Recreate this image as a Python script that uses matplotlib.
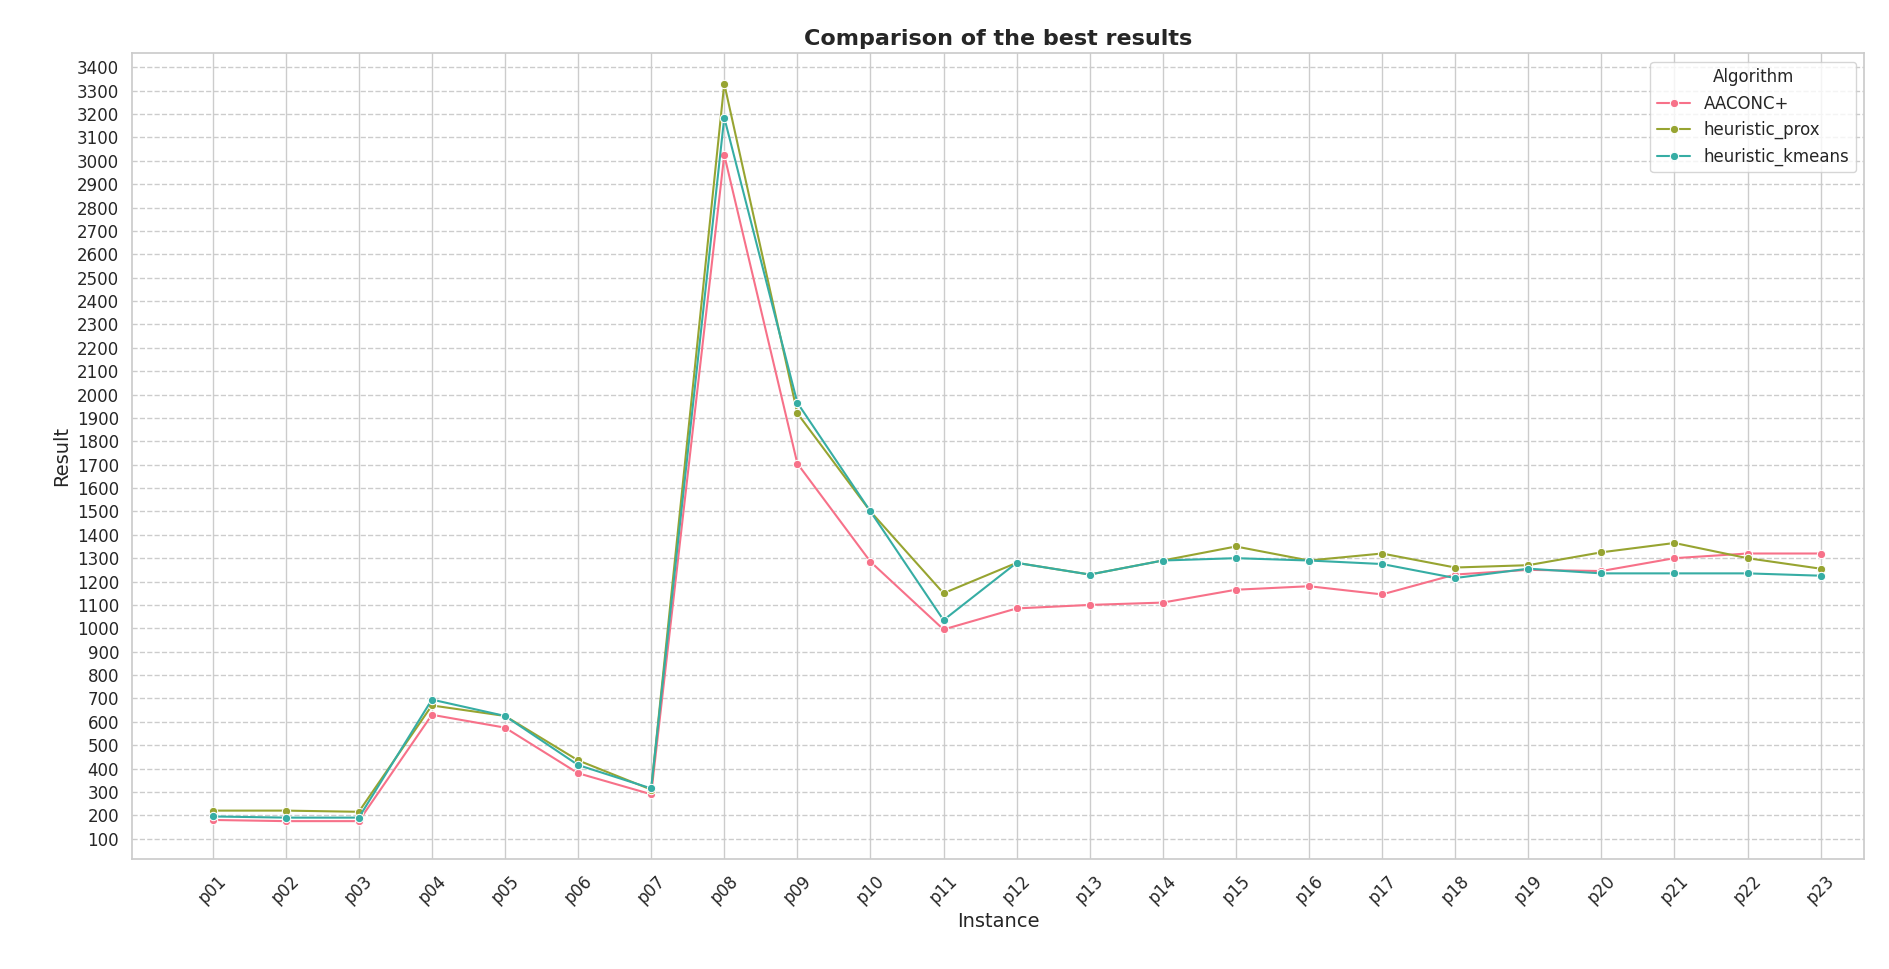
import pandas as pd
import seaborn as sns
import matplotlib.pyplot as plt
from matplotlib.ticker import FixedLocator

instances = ["p%02d" % i for i in range(1, 24)]
aaconc = [180, 175, 175, 630, 575, 380, 290, 3025, 1705, 1285, 995, 1085, 1100,
          1110, 1165, 1180, 1145, 1230, 1250, 1245, 1300, 1320, 1320]
prox = [220, 220, 215, 670, 625, 435, 310, 3330, 1920, 1500, 1150, 1280, 1230,
        1290, 1350, 1290, 1320, 1260, 1270, 1325, 1365, 1300, 1255]
kmeans = [195, 190, 190, 695, 625, 415, 315, 3185, 1965, 1500, 1035, 1280, 1230,
          1290, 1300, 1290, 1275, 1215, 1255, 1235, 1235, 1235, 1225]
algorithms = ["AACONC+", "heuristic_prox", "heuristic_kmeans"]
yticks = list(range(100, 3500, 100))

rows = []
for alg, vals in zip(algorithms, [aaconc, prox, kmeans]):
    for inst, v in zip(instances, vals):
        rows.append({"Instance": inst, "Result": v, "Algorithm": alg})
df = pd.DataFrame(rows)

sns.set_theme(style="whitegrid")
fig, ax = plt.subplots(figsize=(18.89, 9.69), dpi=100)
colors = sns.color_palette("husl", 4)[:3]
sns.lineplot(data=df, x="Instance", y="Result", hue="Algorithm", marker="o",
             palette=colors, ax=ax)
ax.yaxis.set_major_locator(FixedLocator(yticks))
ax.set_ylim(15, 3460)
ax.set_xlim(-1.1, 22.6)
ax.grid(axis="y", linestyle="--")
ax.tick_params(axis="x", rotation=45, labelsize=12)
ax.tick_params(axis="y", labelsize=12)
ax.set_title("Comparison of the best results", fontsize=16, fontweight="bold")
ax.set_xlabel("Instance", fontsize=14)
ax.set_ylabel("Result", fontsize=14)
ax.legend(title="Algorithm", loc="upper right", fontsize=12, title_fontsize=12)
plt.subplots_adjust(left=0.07, right=0.987, top=0.945, bottom=0.114)
plt.savefig("out.png")
